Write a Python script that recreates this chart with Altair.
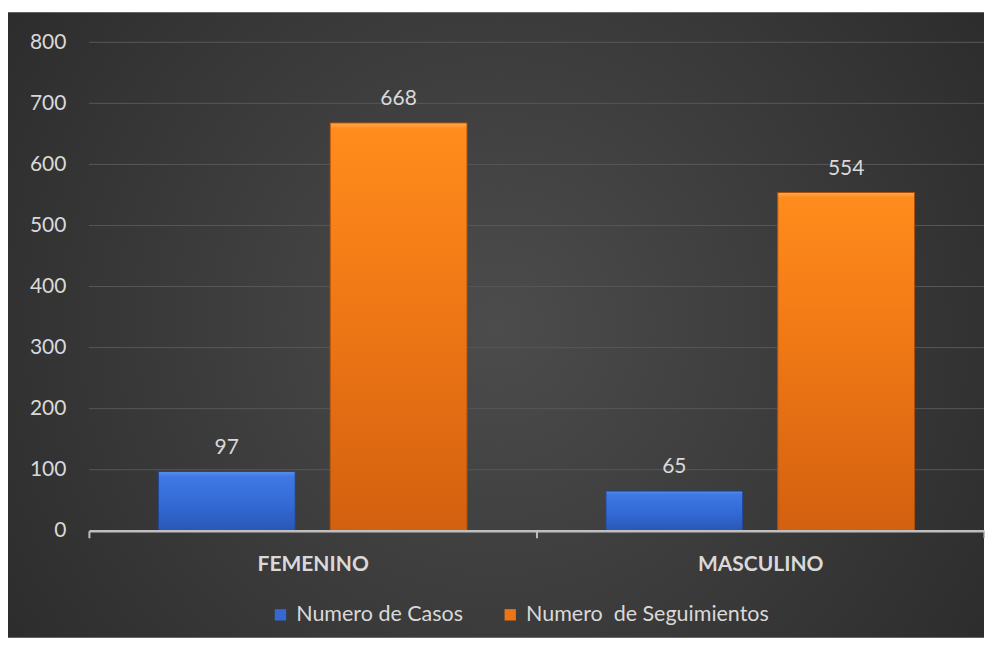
import altair as alt
import pandas as pd

categories = ["FEMENINO", "MASCULINO"]
series = ["Numero de Casos", "Numero\u00a0 de Seguimientos"]
casos = [97, 65]
seguimientos = [668, 554]
y_ticks = [0, 100, 200, 300, 400, 500, 600, 700, 800]

rows = []
for i, c in enumerate(categories):
    rows.append({"categoria": c, "serie": series[0], "valor": casos[i]})
    rows.append({"categoria": c, "serie": series[1], "valor": seguimientos[i]})
df = pd.DataFrame(rows)
grid_df = pd.DataFrame({"valor": y_ticks[1:]})
bg_df = pd.DataFrame({"a": [0]})

FONT = "Lato"
TXT = "#d9d9d9"
W, H = 896, 489

x_enc = alt.X("categoria:N", sort=categories,
              scale=alt.Scale(paddingInner=0, paddingOuter=0),
              axis=alt.Axis(title=None, labelAngle=0, labelFont=FONT, labelFontSize=21,
                            labelFontWeight="bold", labelColor=TXT, labelPadding=16,
                            domainColor="#bfbfbf", domainWidth=2.5, tickColor="#bfbfbf",
                            tickWidth=2, tickSize=7, tickBand="extent", grid=False, zindex=1))
xo_enc = alt.XOffset("serie:N", sort=series,
                     scale=alt.Scale(paddingInner=0.2035, paddingOuter=0.404))
y_axis = alt.Axis(title=None, values=y_ticks, labelFont=FONT, labelFontSize=21,
                  labelColor=TXT, labelPadding=23, domain=False, ticks=False,
                  grid=False, zindex=1)
y_enc = alt.Y("valor:Q", scale=alt.Scale(domain=[0, 800], nice=False), axis=y_axis)

bg = alt.Chart(bg_df).mark_rect(
    fill=alt.Gradient(gradient="radial", x1=0.5, y1=0.5, r1=0, x2=0.5, y2=0.5, r2=0.72,
                      stops=[alt.GradientStop(offset=0, color="#4c4c4c"),
                             alt.GradientStop(offset=1, color="#262626")])
).encode(x=alt.value(-81), x2=alt.value(W), y=alt.value(-30), y2=alt.value(596))

grid = alt.Chart(grid_df).mark_rule(color="#575757", strokeWidth=1).encode(y=y_enc)

base = alt.Chart(df)

bars = base.mark_bar().encode(
    x=x_enc, xOffset=xo_enc, y=y_enc,
    color=alt.Color("serie:N", sort=series,
                    scale=alt.Scale(domain=series, range=["#3568d4", "#ec7414"]),
                    legend=alt.Legend(title=None, orient="none", legendX=181, legendY=562,
                                      direction="horizontal", symbolType="square",
                                      symbolSize=130, symbolStrokeWidth=0,
                                      labelFont=FONT, labelFontSize=21.5, labelColor=TXT,
                                      labelOffset=5, columnPadding=36, labelLimit=400)))

blue_grad = alt.Gradient(gradient="linear", x1=0, y1=0, x2=0, y2=1,
                         stops=[alt.GradientStop(offset=0, color="#5b93f2"),
                                alt.GradientStop(offset=0.08, color="#3f79e4"),
                                alt.GradientStop(offset=0.6, color="#3268d2"),
                                alt.GradientStop(offset=1, color="#2a57b6")])
orange_grad = alt.Gradient(gradient="linear", x1=0, y1=0, x2=0, y2=1,
                           stops=[alt.GradientStop(offset=0, color="#ffa94d"),
                                  alt.GradientStop(offset=0.015, color="#ff8c1c"),
                                  alt.GradientStop(offset=0.4, color="#f27a16"),
                                  alt.GradientStop(offset=1, color="#d3600f")])

blue_bars = base.mark_bar(fill=blue_grad, stroke="#1e4090", strokeWidth=1).encode(
    x=x_enc, xOffset=xo_enc, y=y_enc).transform_filter(alt.datum.serie == series[0])
orange_bars = base.mark_bar(fill=orange_grad, stroke="#a84d0a", strokeWidth=1).encode(
    x=x_enc, xOffset=xo_enc, y=y_enc).transform_filter(alt.datum.serie == series[1])

labels = base.mark_text(font=FONT, fontSize=21, color=TXT, baseline="alphabetic",
                        dy=-18).encode(x=x_enc, xOffset=xo_enc, y=y_enc,
                                       text=alt.Text("valor:Q"))

chart = alt.layer(bg, grid, bars, blue_bars, orange_bars, labels).properties(
    width=W, height=H, background="white",
    padding={"top": 4, "left": 0, "right": 0, "bottom": 0}
).configure_view(stroke=None)

chart.save("out.html", embed_options={"renderer": "svg", "actions": False})
